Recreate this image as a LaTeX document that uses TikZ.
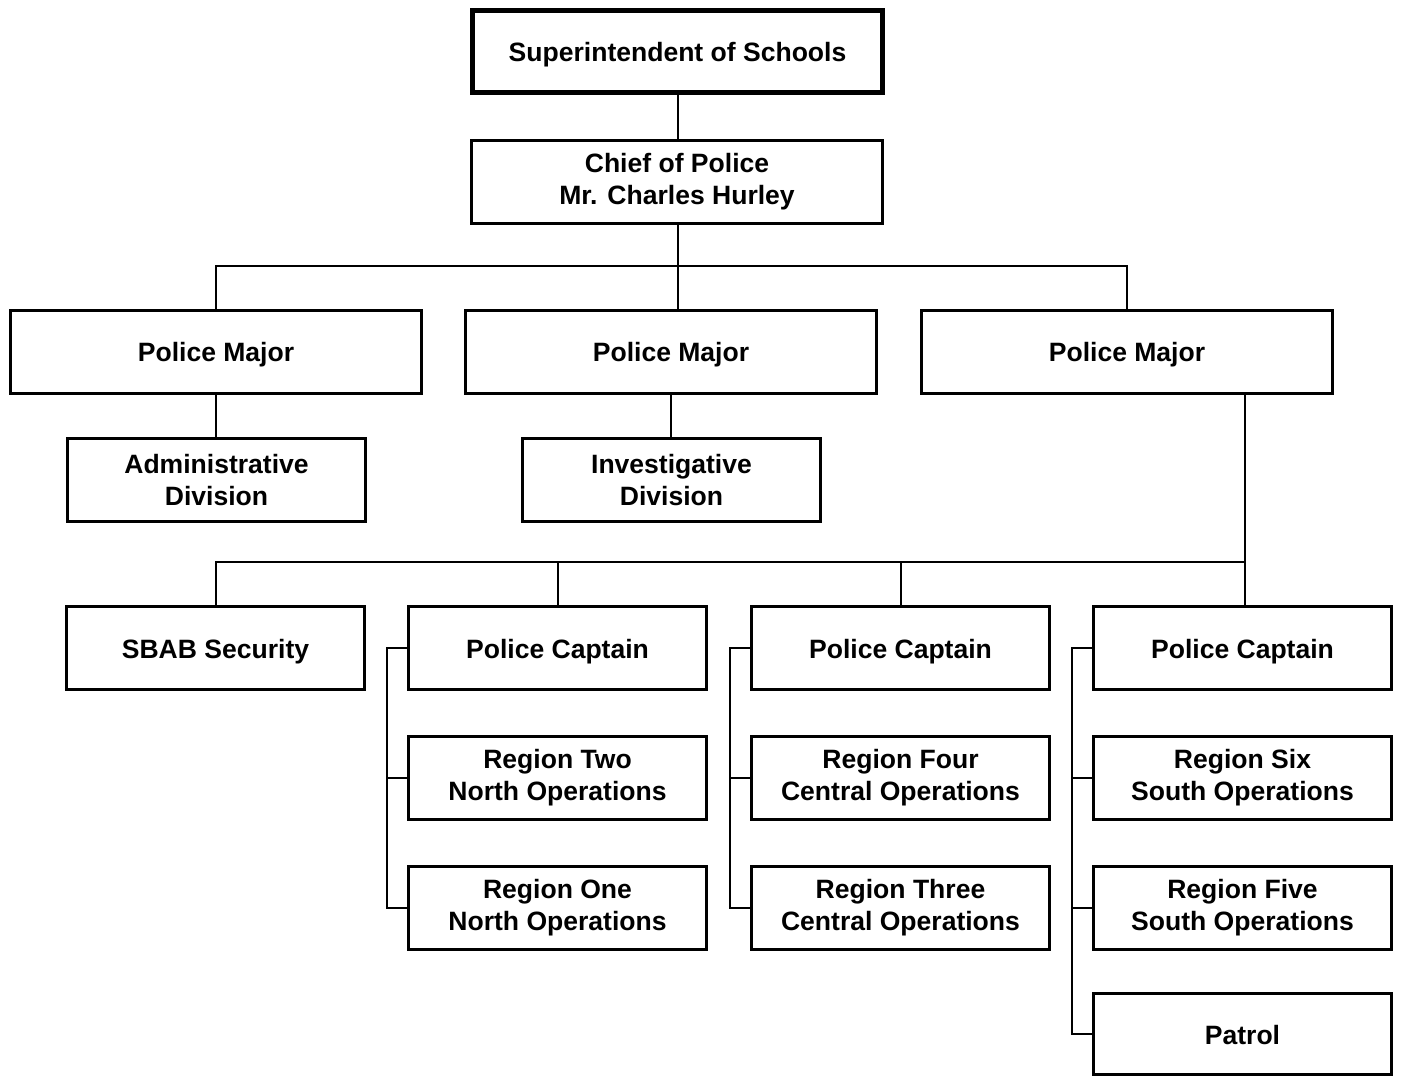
\documentclass[tikz,border=0pt]{standalone}
\usepackage{fontspec}
\setmainfont{Liberation Sans}
\begin{document}
\begin{tikzpicture}[x=0.75pt,y=-0.75pt,
  box/.style={draw, line width=2.25pt, inner sep=0pt, outer sep=0pt, align=center,
    font=\bfseries\fontsize{19.9}{24}\selectfont},
  single/.style={text height=19pt, text depth=4pt},
  wide/.style={box, minimum width=308.25pt, minimum height=62.25pt},
  narrow/.style={box, minimum width=223.5pt, minimum height=62.25pt},
  topbox/.style={box, line width=3.75pt, minimum width=307.5pt, minimum height=61.5pt},
  conn/.style={line width=1.5pt}]
\useasboundingbox (0,0) rectangle (1405,1078);
\node[topbox, single] (sup) at (677.5,51.5) {Superintendent of Schools};
\node[wide] (chief) at (677,182) {Chief of Police\\Mr. Charles Hurley};
\node[wide, single] (pm1) at (216,351.5) {Police Major};
\node[wide, single] (pm2) at (671,351.5) {Police Major};
\node[wide, single] (pm3) at (1127,351.5) {Police Major};
\node[narrow] (adm) at (216.5,480) {Administrative\\Division};
\node[narrow] (inv) at (671.5,480) {Investigative\\Division};
\node[narrow, single] (sbab) at (215.5,648) {SBAB Security};
\node[narrow, single] (c1) at (557.5,648) {Police Captain};
\node[narrow, single] (c2) at (900.5,648) {Police Captain};
\node[narrow, single] (c3) at (1242.5,648) {Police Captain};
\node[narrow] (r2) at (557.5,777.5) {Region Two\\North Operations};
\node[narrow] (r1) at (557.5,907.5) {Region One\\North Operations};
\node[narrow] (r4) at (900.5,777.5) {Region Four\\Central Operations};
\node[narrow] (r3) at (900.5,907.5) {Region Three\\Central Operations};
\node[narrow] (r6) at (1242.5,777.5) {Region Six\\South Operations};
\node[narrow] (r5) at (1242.5,907.5) {Region Five\\South Operations};
\node[narrow, single, minimum height=60.75pt] (pat) at (1242.5,1034) {Patrol};
% connectors
\draw[conn] (sup.south) -- (sup.south |- chief.north);
\coordinate (bus1) at (678,266);
\draw[conn] (bus1 |- chief.south) -- (bus1 |- pm2.north);
\draw[conn] (pm1.north) |- (bus1) -| (pm3.north);
\draw[conn] (pm1.south) -- (pm1.south |- adm.north);
\draw[conn] (pm2.south) -- (pm2.south |- inv.north);
\coordinate (bus2) at (1245,562);
\draw[conn] (bus2 |- pm3.south) -- (bus2 |- c3.north);
\draw[conn] (sbab.north) |- (bus2);
\draw[conn] (c1.north) -- (c1.north |- bus2);
\draw[conn] (c2.north) -- (c2.north |- bus2);
% brackets
\coordinate (b1) at (387,0);
\coordinate (b2) at (730,0);
\coordinate (b3) at (1072,0);
\draw[conn] (c1.west) -- (c1.west -| b1) -- (r1.west -| b1) -- (r1.west);
\draw[conn] (r2.west) -- (r2.west -| b1);
\draw[conn] (c2.west) -- (c2.west -| b2) -- (r3.west -| b2) -- (r3.west);
\draw[conn] (r4.west) -- (r4.west -| b2);
\draw[conn] (c3.west) -- (c3.west -| b3) -- (pat.west -| b3) -- (pat.west);
\draw[conn] (r6.west) -- (r6.west -| b3);
\draw[conn] (r5.west) -- (r5.west -| b3);
\end{tikzpicture}
\end{document}
